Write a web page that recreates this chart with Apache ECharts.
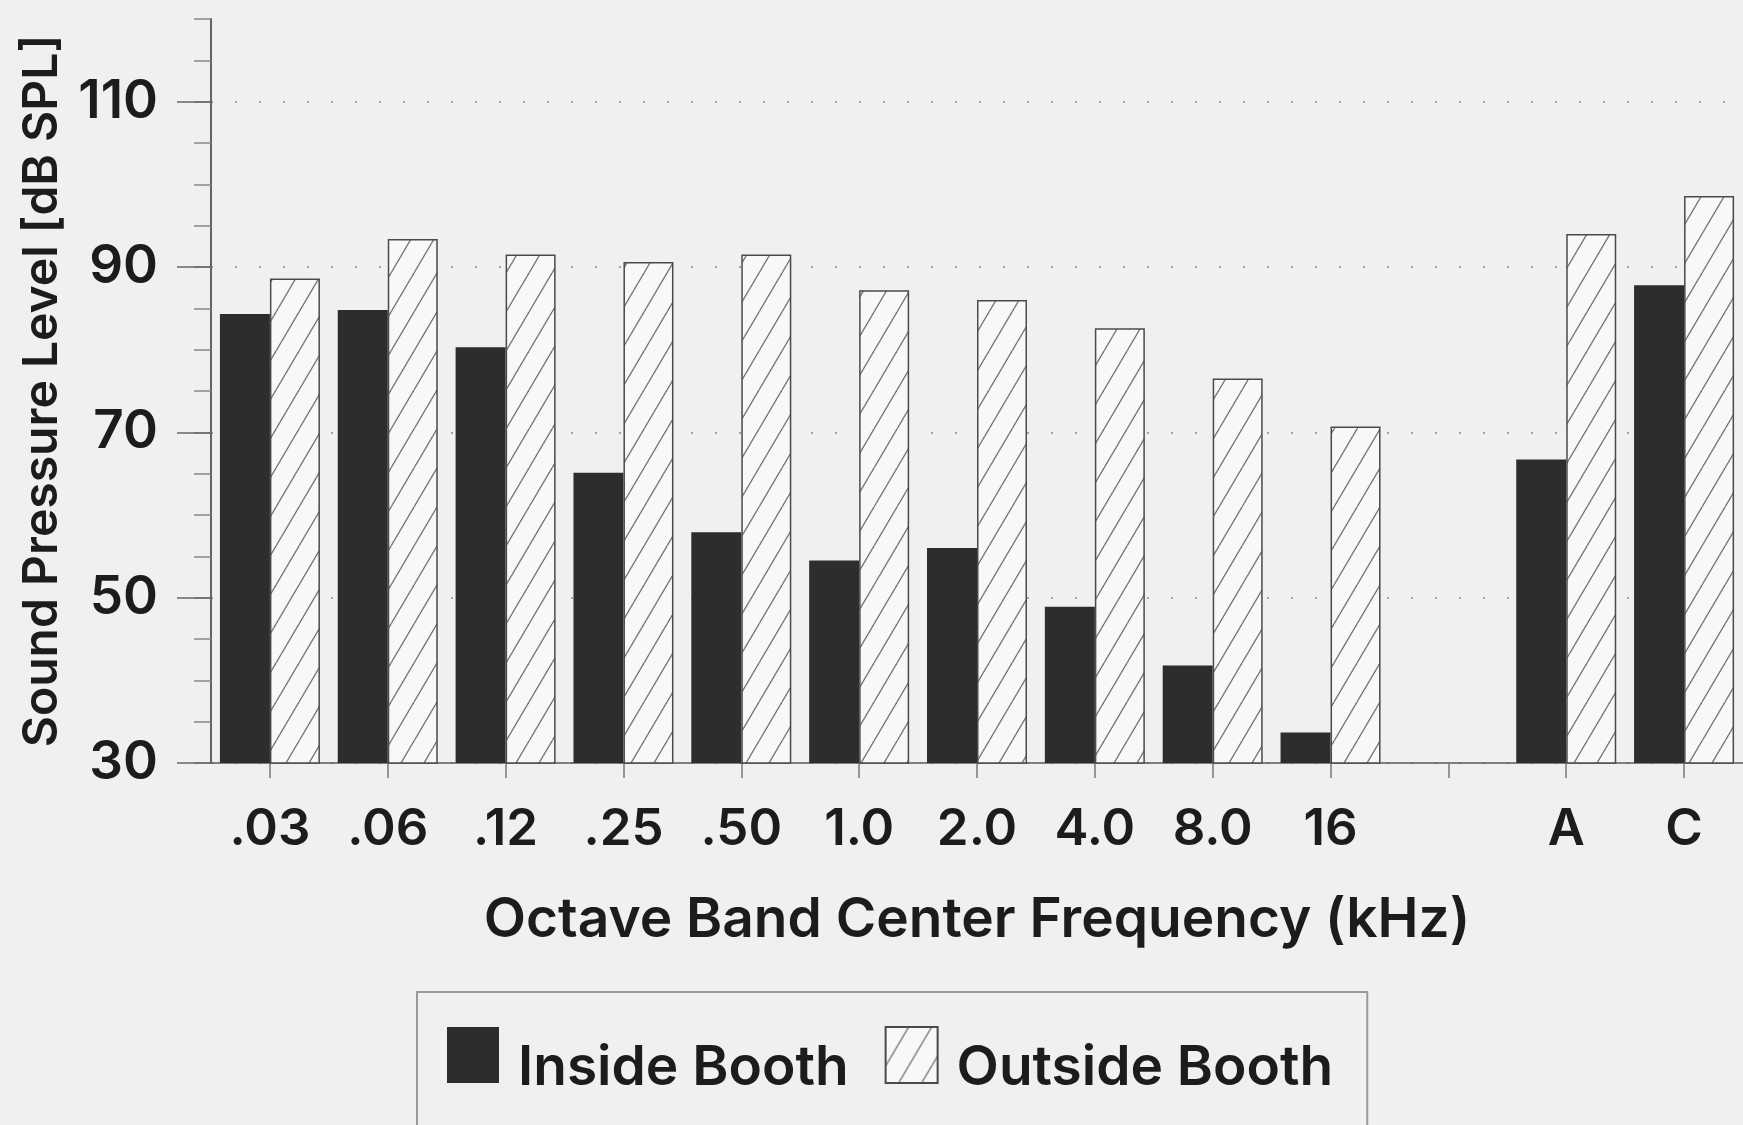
<!DOCTYPE html>
<html>
<head>
<meta charset="utf-8">
<script src="https://cdn.jsdelivr.net/npm/echarts@6/dist/echarts.min.js"></script>
<style>
  html, body { margin: 0; padding: 0; background: #f0f0f0; }
  #chart { width: 1743px; height: 1125px; }
</style>
</head>
<body>
<div id="chart"></div>
<script>
// ---- data ----
const categories = ['.03', '.06', '.12', '.25', '.50', '1.0', '2.0', '4.0', '8.0', '16', '', 'A', 'C'];
const insideBooth = [84.3, 84.8, 80.3, 65.1, 57.9, 54.5, 56.0, 48.9, 41.8, 33.7, null, 66.7, 87.8];
const outsideBooth = [88.6, 93.4, 91.5, 90.6, 91.5, 87.2, 86.0, 82.6, 76.5, 70.7, null, 94.0, 98.6];
const yLabelValues = [30, 50, 70, 90, 110];
const seriesNames = ['Inside Booth', 'Outside Booth'];

// ---- hatch pattern ----
function makeHatch() {
  const w = 23, h = 39;
  const c = document.createElement('canvas');
  c.width = w; c.height = h;
  const ctx = c.getContext('2d');
  ctx.fillStyle = '#f8f8f8';
  ctx.fillRect(0, 0, w, h);
  ctx.strokeStyle = '#727272';
  ctx.lineWidth = 1.3;
  for (const dx of [-w, 0, w]) {
    ctx.beginPath();
    ctx.moveTo(dx, h);
    ctx.lineTo(dx + w, 0);
    ctx.stroke();
  }
  return c;
}
const hatch = makeHatch();

// legend icon: 52x56 box placed at the top of an 82px-tall item (text sits lower, as in the source)
const legendIcon = 'path://M0,0L52,0L52,56L0,56Z M0,82';

const font = 'Inter, Liberation Sans, Arial, sans-serif';
const fw = 600;
const chart = echarts.init(document.getElementById('chart'), null, { renderer: 'canvas' });

chart.setOption({
  backgroundColor: '#f0f0f0',
  animation: false,
  grid: { left: 211, top: 19, width: 1550, height: 744, containLabel: false },
  legend: {
    left: 417, top: 992,
    orient: 'horizontal',
    padding: [34, 34, 40, 30],
    borderColor: '#9a9a9a', borderWidth: 2,
    itemWidth: 52, itemHeight: 82, itemGap: 36,
    icon: legendIcon,
    data: seriesNames,
    textStyle: { fontFamily: font, fontSize: 55, fontWeight: fw, color: '#1c1c1c', padding: [0, 0, 0, 14] }
  },
  xAxis: {
    type: 'category',
    data: categories,
    boundaryGap: true,
    name: 'Octave Band Center Frequency (kHz)',
    nameLocation: 'middle',
    nameGap: 130,
    nameTextStyle: { fontFamily: font, fontSize: 55, fontWeight: fw, color: '#1c1c1c' },
    axisLine: { show: true, lineStyle: { color: '#5a5a5a', width: 1.5 } },
    axisTick: { show: true, alignWithLabel: true, length: 15, lineStyle: { color: '#777', width: 1.5 } },
    axisLabel: { fontFamily: font, fontSize: 51, fontWeight: fw, color: '#1c1c1c', margin: 41, interval: 0 },
    splitLine: { show: false }
  },
  yAxis: [
    {
      type: 'value', min: 30, max: 120, interval: 5,
      name: 'Sound Pressure Level [dB SPL]',
      nameLocation: 'middle',
      nameGap: 144,
      nameTextStyle: { fontFamily: font, fontSize: 48, fontWeight: fw, color: '#1c1c1c' },
      axisLine: { show: true, lineStyle: { color: '#5a5a5a', width: 1.5 } },
      axisTick: { show: true, length: 17, lineStyle: { color: '#888', width: 1.5 } },
      axisLabel: { customValues: yLabelValues, fontFamily: font, fontSize: 53, fontWeight: fw, color: '#1c1c1c', margin: 53 },
      splitLine: { show: false }
    },
    {
      type: 'value', min: 30, max: 120, interval: 5,
      position: 'left',
      axisLine: { show: true, lineStyle: { color: '#5a5a5a', width: 1.5 } },
      axisTick: { show: true, inside: false, customValues: yLabelValues, length: 34, lineStyle: { color: '#666', width: 1.5 } },
      axisLabel: { show: false },
      splitLine: { show: true, lineStyle: { color: '#8a8a8a', type: [2, 22], width: 1.5 } }
    }
  ],
  series: [
    {
      name: seriesNames[0],
      type: 'bar',
      data: insideBooth,
      barWidth: 50,
      barGap: '0%',
      itemStyle: { color: '#2d2d2d', borderColor: '#2d2d2d', borderWidth: 0 }
    },
    {
      name: seriesNames[1],
      type: 'bar',
      data: outsideBooth,
      barWidth: 50,
      barGap: '0%',
      itemStyle: { color: { image: hatch, repeat: 'repeat' }, borderColor: '#4a4a4a', borderWidth: 1.5 }
    }
  ]
});
</script>
</body>
</html>
